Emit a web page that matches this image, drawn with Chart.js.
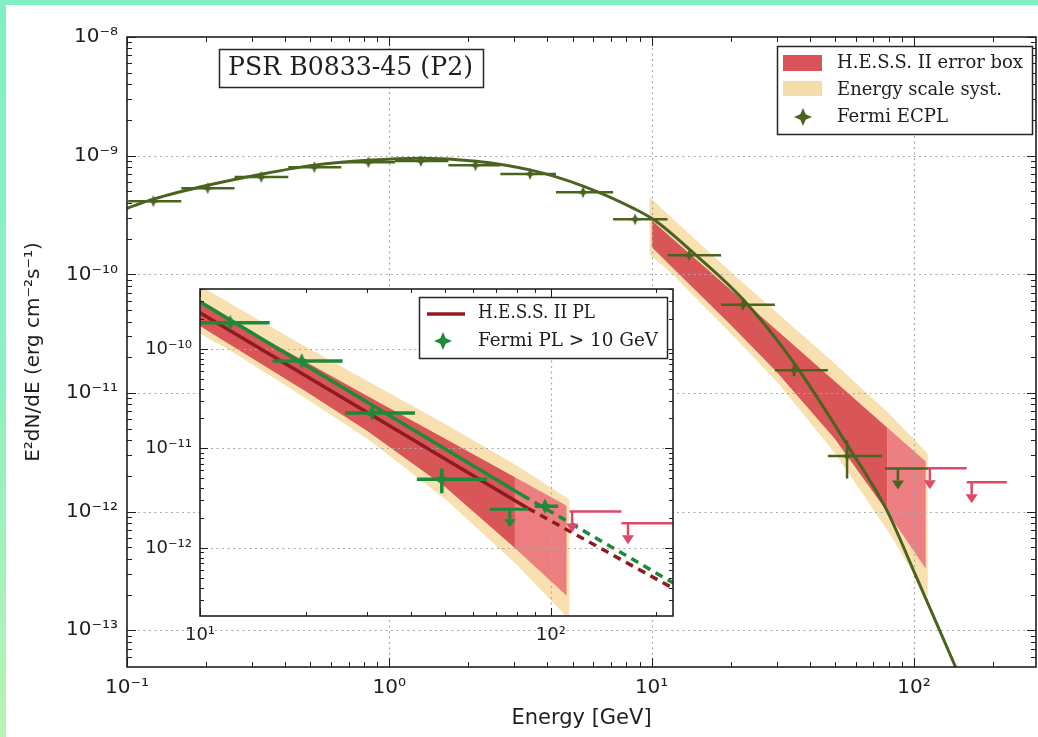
<!DOCTYPE html>
<html><head><meta charset="utf-8">
<script src="https://cdn.jsdelivr.net/npm/chart.js@4.4.1/dist/chart.umd.min.js"></script>
<style>
html,body{margin:0;padding:0;}
body{width:1038px;height:737px;position:relative;overflow:hidden;background:linear-gradient(180deg,#80f0c4 0%,#8ff1c0 55%,#b8f4b4 100%);}
#panel{position:absolute;left:6px;top:5px;width:1032px;height:732px;background:#fff;}
#main{position:absolute;left:0;top:0;}
#inset{position:absolute;left:120px;top:266px;}
</style></head><body>
<div id="panel"></div>
<canvas id="main" width="1038" height="737"></canvas>
<canvas id="inset" width="565" height="385"></canvas>
<script>
// ---------------- DATA (energies in GeV, fluxes in erg cm^-2 s^-1) ----------------
// Fermi-LAT ECPL spectral points (main panel)
const fermiE   = [0.126, 0.203, 0.325, 0.518, 0.832, 1.32, 2.13, 3.44, 5.48, 8.65, 13.9, 22.3, 34.9, 55.6];
const fermiF   = [4.13e-10, 5.32e-10, 6.6e-10, 8.0e-10, 8.8e-10, 9.0e-10, 8.3e-10, 7.0e-10, 4.92e-10, 2.91e-10, 1.45e-10, 5.53e-11, 1.55e-11, 2.94e-12];
const fermiElo = [0.101, 0.161, 0.257, 0.412, 0.656, 1.05, 1.68, 2.65, 4.32, 7.13, 11.5, 18.4, 29.5, 47.0];
const fermiEhi = [0.161, 0.257, 0.412, 0.656, 1.05, 1.68, 2.65, 4.32, 7.13, 11.5, 18.4, 29.5, 47.0, 75.5];
const fermiFlo = [4.05e-10, 5.22e-10, 6.5e-10, 7.85e-10, 8.65e-10, 8.85e-10, 8.15e-10, 6.85e-10, 4.8e-10, 2.82e-10, 1.38e-10, 5.1e-11, 1.38e-11, 1.9e-12];
const fermiFhi = [4.21e-10, 5.42e-10, 6.7e-10, 8.15e-10, 8.95e-10, 9.15e-10, 8.45e-10, 7.15e-10, 5.04e-10, 3.0e-10, 1.52e-10, 6.0e-11, 1.75e-11, 4.0e-12];
// Fermi ECPL model curve
const ecplE = [0.1, 0.126, 0.203, 0.325, 0.518, 0.832, 1.32, 2.14, 3.47, 5.48, 8.65, 10.4, 13.9, 22.3, 35.2, 55.6, 78.6, 102, 144, 160];
const ecplF = [3.6e-10, 4.3e-10, 5.63e-10, 6.98e-10, 8.32e-10, 9.16e-10, 9.53e-10, 8.99e-10, 7.55e-10, 5.54e-10, 3.54e-10, 2.8e-10, 1.63e-10, 6.15e-11, 1.74e-11, 3.67e-12, 1.04e-12, 2.83e-13, 4.92e-14, 2.9e-14];
// Fermi upper limit (main panel)
const fermiUlE = [86.9], fermiUlElo = [77.6], fermiUlEhi = [115], fermiUlF = [2.31e-12];
// H.E.S.S. II upper limits
const hessUlE = [115, 166], hessUlElo = [113, 159], hessUlEhi = [159, 226], hessUlF = [2.32e-12, 1.77e-12];
// H.E.S.S. II error box (butterfly), dark part and light tail
const boxE  = [10, 12, 20, 30, 50, 79];
const boxHi = [2.85e-10, 2.0e-10, 7.41e-11, 3.37e-11, 1.25e-11, 5.12e-12];
const boxLo = [1.7e-10, 1.14e-10, 3.75e-11, 1.5e-11, 4.1e-12, 1.0e-12];
const tailE  = [79, 111];
const tailHi = [5.12e-12, 2.65e-12];
const tailLo = [1.0e-12, 3.3e-13];
// Energy-scale systematic envelope
const systE  = [9.8, 12, 20, 30, 50, 80, 113];
const systHi = [4.5e-10, 2.96e-10, 1.05e-10, 4.76e-11, 1.76e-11, 6.75e-12, 3.07e-12];
const systLo = [1.48e-10, 1.0e-10, 3.19e-11, 1.25e-11, 3.11e-12, 6.76e-13, 1.9e-13];
// Inset: Fermi PL > 10 GeV points
const plE   = [12.2, 19.5, 30.9, 48.9, 96.2];
const plF   = [1.83e-10, 7.57e-11, 2.27e-11, 4.91e-12, 2.63e-12];
const plElo = [10.0, 16.1, 25.9, 41.5, 90];
const plEhi = [15.8, 25.5, 41.0, 65.8, 105];
const plFlo = [1.76e-10, 7.2e-11, 2.1e-11, 3.55e-12, 2.35e-12];
const plFhi = [1.9e-10, 7.95e-11, 2.45e-11, 6.3e-12, 2.9e-12];
const plUlE = [76.4], plUlElo = [67], plUlEhi = [86], plUlF = [2.45e-12];
// Inset power-law lines (solid fit range, dashed extrapolation)
const hessPlE = [10, 86], hessPlF = [2.31e-10, 2.51e-12];
const hessPlExtE = [86, 225], hessPlExtF = [2.51e-12, 3.87e-13];
const fermiPlE = [10, 83], fermiPlF = [2.97e-10, 3.39e-12];
const fermiPlExtE = [83, 225], fermiPlExtF = [3.39e-12, 4.38e-13];

// ---------------- STYLE ----------------
const SANS = "'DejaVu Sans', sans-serif";
const SERIF = "'DejaVu Serif', serif";
const OLIVE = '#4a6420', GREEN = '#1d8a3a', DARKRED = '#8e1b22', UL_RED = '#db4a68';
const YELLOW = 'rgba(246,214,150,0.75)', RED_D = 'rgba(205,40,58,0.75)', RED_L = 'rgba(228,60,96,0.6)';

const SUP = {'-':'\u207B','0':'\u2070','1':'\u00B9','2':'\u00B2','3':'\u00B3','4':'\u2074','5':'\u2075','6':'\u2076','7':'\u2077','8':'\u2078','9':'\u2079'};
function isPow10(v){ if(!(v>0)) return false; const l=Math.log10(v); return Math.abs(l-Math.round(l))<1e-6; }
function isIntSig(v){ const e=Math.floor(Math.log10(v)+1e-9); const s=v/Math.pow(10,e); return Math.abs(s-Math.round(s))<1e-6; }
function powLabel(v){ if(!isPow10(v)) return ''; const e=Math.round(Math.log10(v)); return '10'+String(e).split('').map(c=>SUP[c]).join(''); }
function pts(xs, ys){ return xs.map((x,i)=>({x:x, y:ys[i]})); }
function star(color, r){
  const s=Math.ceil(2*r)+2, c=document.createElement('canvas'); c.width=s; c.height=s;
  const g=c.getContext('2d'), m=s/2, k=r*0.3;
  g.fillStyle=color; g.beginPath();
  g.moveTo(m,m-r); g.lineTo(m+k,m-k); g.lineTo(m+r,m); g.lineTo(m+k,m+k);
  g.lineTo(m,m+r); g.lineTo(m-k,m+k); g.lineTo(m-r,m); g.lineTo(m-k,m-k); g.closePath(); g.fill();
  return c;
}
function clipArea(ctx,a){ ctx.beginPath(); ctx.rect(a.left,a.top,a.right-a.left,a.bottom-a.top); ctx.clip(); }
function drawErr(chart, ds){
  if(!ds.err) return;
  const {ctx, chartArea:a, scales:{x,y}} = chart, e = ds.err;
  ctx.save(); clipArea(ctx,a);
  ctx.strokeStyle=ds.errColor; ctx.lineWidth=ds.errWidth; ctx.beginPath();
  ds.data.forEach((p,i)=>{
    const px=x.getPixelForValue(p.x), py=y.getPixelForValue(p.y);
    ctx.moveTo(x.getPixelForValue(e.xlo[i]),py); ctx.lineTo(x.getPixelForValue(e.xhi[i]),py);
    ctx.moveTo(px,y.getPixelForValue(e.ylo[i])); ctx.lineTo(px,y.getPixelForValue(e.yhi[i]));
  });
  ctx.stroke(); ctx.restore();
}
function drawUL(chart,u){
  const {ctx, chartArea:a, scales:{x,y}} = chart;
  ctx.save(); clipArea(ctx,a);
  ctx.strokeStyle=u.color; ctx.fillStyle=u.color; ctx.lineWidth=u.width;
  u.E.forEach((e,i)=>{
    const py=y.getPixelForValue(u.F[i]), px=x.getPixelForValue(e);
    ctx.beginPath(); ctx.moveTo(x.getPixelForValue(u.lo[i]),py); ctx.lineTo(x.getPixelForValue(u.hi[i]),py);
    ctx.moveTo(px,py); ctx.lineTo(px,py+u.len-u.head); ctx.stroke();
    ctx.beginPath(); ctx.moveTo(px-u.hw,py+u.len-u.head); ctx.lineTo(px+u.hw,py+u.len-u.head); ctx.lineTo(px,py+u.len); ctx.closePath(); ctx.fill();
  });
  ctx.restore();
}
function drawGrid(chart){
  const {ctx, chartArea:a, scales:{x,y}} = chart;
  ctx.save(); clipArea(ctx,a);
  ctx.strokeStyle='#a9a9a9'; ctx.lineWidth=1.2; ctx.setLineDash([2,3.5]); ctx.beginPath();
  x.ticks.forEach(t=>{ if(!isPow10(t.value)) return; const p=Math.round(x.getPixelForValue(t.value))+0.5; if(p<=a.left+1||p>=a.right-1) return; ctx.moveTo(p,a.top); ctx.lineTo(p,a.bottom); });
  y.ticks.forEach(t=>{ if(!isPow10(t.value)) return; const p=Math.round(y.getPixelForValue(t.value))+0.5; if(p<=a.top+1||p>=a.bottom-1) return; ctx.moveTo(a.left,p); ctx.lineTo(a.right,p); });
  ctx.stroke(); ctx.restore();
}
function drawTicksBox(chart,cfg){
  const {ctx, chartArea:a, scales:{x,y}} = chart;
  ctx.save(); ctx.strokeStyle='#1e1e1e'; ctx.lineWidth=1; ctx.beginPath();
  x.ticks.forEach(t=>{ const v=t.value; if(!isIntSig(v)) return; const p=Math.round(x.getPixelForValue(v))+0.5; if(p<a.left||p>a.right) return;
    const L=isPow10(v)?cfg.major:cfg.minor; ctx.moveTo(p,a.bottom); ctx.lineTo(p,a.bottom-L); ctx.moveTo(p,a.top); ctx.lineTo(p,a.top+L); });
  y.ticks.forEach(t=>{ const v=t.value; if(!isIntSig(v)) return; const p=Math.round(y.getPixelForValue(v))+0.5; if(p<a.top||p>a.bottom) return;
    const L=isPow10(v)?cfg.major:cfg.minor; ctx.moveTo(a.left,p); ctx.lineTo(a.left+L,p); ctx.moveTo(a.right,p); ctx.lineTo(a.right-L,p); });
  ctx.stroke();
  ctx.lineWidth=cfg.boxWidth; ctx.strokeStyle='#202020';
  ctx.strokeRect(a.left,a.top,a.right-a.left,a.bottom-a.top);
  ctx.restore();
}
function fitText(ctx, txt, x, baseY, w, font, color){
  ctx.save(); ctx.font=font; ctx.fillStyle=color||'#1e1e1e'; ctx.textBaseline='alphabetic'; ctx.textAlign='left';
  const m=ctx.measureText(txt).width; const s=Math.max(0.75,Math.min(1.25,w/m));
  ctx.translate(x,baseY); ctx.scale(s,1); ctx.fillText(txt,0,0); ctx.restore();
}
function boxRect(ctx,x,y,w,h,lw){ ctx.save(); ctx.fillStyle='#fff'; ctx.fillRect(x,y,w,h); ctx.strokeStyle='#262626'; ctx.lineWidth=lw; ctx.strokeRect(x,y,w,h); ctx.restore(); }
function decoPlugin(cfg){
  return {
    id:'deco_'+cfg.name,
    beforeDraw(chart){ if(cfg.bg){ const a=chart.chartArea, ctx=chart.ctx; ctx.save(); ctx.fillStyle=cfg.bg; ctx.fillRect(a.left,a.top,a.right-a.left,a.bottom-a.top); ctx.restore(); } },
    beforeDatasetDraw(chart,args){ drawErr(chart, chart.data.datasets[args.index]); },
    afterDatasetDraw(chart,args){ if(chart.data.datasets[args.index].gridAfter) drawGrid(chart); },
    afterDatasetsDraw(chart){ cfg.uls.forEach(u=>drawUL(chart,u)); },
    afterDraw(chart){ drawTicksBox(chart,cfg); if(cfg.extra) cfg.extra(chart.ctx); }
  };
}
function bandSets(){
  const base={borderWidth:0,pointRadius:0,showLine:true,tension:0};
  return [
    Object.assign({label:'syst hi',data:pts(systE,systHi),fill:false,order:20},base),
    Object.assign({label:'Energy scale syst.',data:pts(systE,systLo),fill:'-1',backgroundColor:YELLOW,order:19},base),
    Object.assign({label:'box hi',data:pts(boxE,boxHi),fill:false,order:18},base),
    Object.assign({label:'H.E.S.S. II error box',data:pts(boxE,boxLo),fill:'-1',backgroundColor:RED_D,order:17},base),
    Object.assign({label:'tail hi',data:pts(tailE,tailHi),fill:false,order:16},base),
    Object.assign({label:'tail lo',data:pts(tailE,tailLo),fill:'-1',backgroundColor:RED_L,order:15,gridAfter:true},base)
  ];
}
function logAxis(o){
  return {
    type:'logarithmic', position:o.pos, min:o.min, max:o.max,
    grid:{display:false,drawTicks:false,tickLength:0}, border:{display:false},
    ticks:{autoSkip:false,maxRotation:0,minRotation:0,padding:o.pad,color:'#1e1e1e',font:{family:SANS,size:o.size},callback:(v)=>powLabel(v)},
    title:o.title?{display:true,text:o.title,color:'#1e1e1e',font:{family:SANS,size:o.tsize},padding:0}:{display:false},
    afterFit:o.fit
  };
}

const starMain = star(OLIVE,6), starLegMain = star(OLIVE,9), starInset = star(GREEN,8), starLegInset = star(GREEN,9);

// ---------------- MAIN CHART ----------------
new Chart(document.getElementById('main'), {
  type:'line',
  data:{datasets:[
    {label:'Fermi ECPL',data:pts(fermiE,fermiF),showLine:false,pointStyle:starMain,pointRadius:6,order:1,
     err:{xlo:fermiElo,xhi:fermiEhi,ylo:fermiFlo,yhi:fermiFhi},errColor:OLIVE,errWidth:2.5},
    {label:'Fermi ECPL fit',data:pts(ecplE,ecplF),borderColor:OLIVE,borderWidth:3,pointRadius:0,cubicInterpolationMode:'monotone',fill:false,order:5}
  ].concat(bandSets())},
  options:{
    responsive:false, animation:false, devicePixelRatio:1, events:[],
    layout:{autoPadding:false,padding:{left:22,top:37,right:2,bottom:6}},
    plugins:{legend:{display:false},tooltip:{enabled:false}},
    scales:{
      x:logAxis({pos:'bottom',min:0.1,max:292,pad:9,size:20,title:'Energy [GeV]',tsize:21,fit:(s)=>{s.height=64;s.paddingLeft=0;s.paddingRight=0;}}),
      y:logAxis({pos:'left',min:4.9e-14,max:1e-8,pad:9,size:20,title:'E\u00B2dN/dE (erg cm\u207B\u00B2s\u207B\u00B9)',tsize:20,fit:(s)=>{s.width=105;s.paddingTop=0;s.paddingBottom=0;}})
    }
  },
  plugins:[decoPlugin({name:'main',major:9,minor:5,boxWidth:1.6,
    uls:[
      {E:fermiUlE,lo:fermiUlElo,hi:fermiUlEhi,F:fermiUlF,color:OLIVE,width:2.5,len:21,head:9,hw:6},
      {E:hessUlE,lo:hessUlElo,hi:hessUlEhi,F:hessUlF,color:UL_RED,width:2.5,len:21,head:9,hw:6}
    ],
    extra:(ctx)=>{
      boxRect(ctx,219.5,49.5,264,38,1.5);
      fitText(ctx,'PSR B0833-45 (P2)',228,75,245,'26px '+SERIF);
      boxRect(ctx,777.5,46.5,255,88,1.5);
      ctx.save();
      ctx.fillStyle='#d8545a'; ctx.fillRect(783,55,39,16);
      ctx.fillStyle='#f6dca8'; ctx.fillRect(783,81,39,15);
      ctx.drawImage(starLegMain,803-starLegMain.width/2,117-starLegMain.height/2);
      ctx.restore();
      fitText(ctx,'H.E.S.S. II error box',837,68,186,'18px '+SERIF);
      fitText(ctx,'Energy scale syst.',837,95,165,'18px '+SERIF);
      fitText(ctx,'Fermi ECPL',837,122,111,'18px '+SERIF);
    }
  })]
});

// ---------------- INSET CHART ----------------
const OX=120, OY=266;
new Chart(document.getElementById('inset'), {
  type:'line',
  data:{datasets:[
    {label:'Fermi PL > 10 GeV',data:pts(plE,plF),showLine:false,pointStyle:starInset,pointRadius:8,order:1,
     err:{xlo:plElo,xhi:plEhi,ylo:plFlo,yhi:plFhi},errColor:GREEN,errWidth:3.5},
    {label:'Fermi PL fit',data:pts(fermiPlE,fermiPlF),borderColor:GREEN,borderWidth:3.5,pointRadius:0,fill:false,order:3},
    {label:'Fermi PL extrapolation',data:pts(fermiPlExtE,fermiPlExtF),borderColor:GREEN,borderWidth:3.5,borderDash:[8,6],pointRadius:0,fill:false,order:3},
    {label:'H.E.S.S. II PL',data:pts(hessPlE,hessPlF),borderColor:DARKRED,borderWidth:3.5,pointRadius:0,fill:false,order:4},
    {label:'H.E.S.S. II PL extrapolation',data:pts(hessPlExtE,hessPlExtF),borderColor:DARKRED,borderWidth:3.5,borderDash:[8,6],pointRadius:0,fill:false,order:4}
  ].concat(bandSets())},
  options:{
    responsive:false, animation:false, devicePixelRatio:1, events:[],
    layout:{autoPadding:false,padding:{left:0,top:23,right:12,bottom:0}},
    plugins:{legend:{display:false},tooltip:{enabled:false}},
    scales:{
      x:logAxis({pos:'bottom',min:10,max:223,pad:9,size:18,fit:(s)=>{s.height=35;s.paddingLeft=0;s.paddingRight=0;}}),
      y:logAxis({pos:'left',min:2.07e-13,max:4.0e-10,pad:8,size:18,fit:(s)=>{s.width=80;s.paddingTop=0;s.paddingBottom=0;}})
    }
  },
  plugins:[decoPlugin({name:'inset',bg:'#ffffff',major:8,minor:4,boxWidth:1.6,
    uls:[
      {E:plUlE,lo:plUlElo,hi:plUlEhi,F:plUlF,color:GREEN,width:3,len:18,head:8,hw:6},
      {E:hessUlE,lo:hessUlElo,hi:hessUlEhi,F:hessUlF,color:UL_RED,width:2.5,len:21,head:9,hw:6}
    ],
    extra:(ctx)=>{
      boxRect(ctx,419.5-OX,297.5-OY,248,61,1.5);
      ctx.save();
      ctx.strokeStyle=DARKRED; ctx.lineWidth=3.5; ctx.beginPath(); ctx.moveTo(427-OX,314-OY); ctx.lineTo(465-OX,314-OY); ctx.stroke();
      ctx.drawImage(starLegInset,443-OX-starLegInset.width/2,341-OY-starLegInset.height/2);
      ctx.restore();
      fitText(ctx,'H.E.S.S. II PL',478-OX,318-OY,117,'18px '+SERIF);
      fitText(ctx,'Fermi PL > 10 GeV',478-OX,346-OY,180,'18px '+SERIF);
    }
  })]
});
</script>
</body></html>
